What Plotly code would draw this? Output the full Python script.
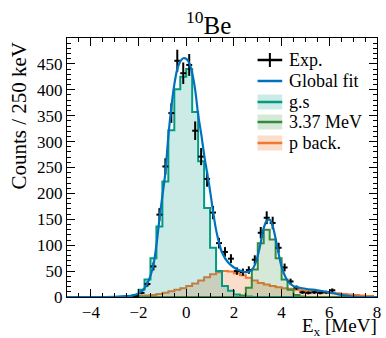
import numpy as np
import plotly.graph_objects as go

# ---------------- data ----------------
BIN_W = 0.25  # MeV
bin_centers = np.arange(-5 + BIN_W / 2, 8, BIN_W)  # 52 bins from -5 to 8

# g.s. component (counts per bin, 52 bins)
gs_counts = [0, 0, 0, 0, 0, 0, 0, 0, 0, 0,
             1, 4, 14, 34, 75, 136, 223, 322, 401, 425,
             440, 357, 262, 172, 95, 50, 21, 12, 5, 2,
             1, 0, 0, 0, 0, 0, 0, 0, 0, 0,
             0, 0, 0, 0, 0, 0, 0, 0, 0, 0,
             0, 0]

# 3.37 MeV component
ex337_counts = [0, 0, 0, 0, 0, 0, 0, 0, 0, 0,
                0, 0, 0, 0, 0, 0, 0, 0, 0, 0,
                0, 0, 0, 0, 0, 0, 0, 0, 0, 3,
                18, 53, 104, 130, 111, 75, 34, 14, 4, 1,
                0, 0, 0, 0, 0, 0, 0, 0, 0, 0,
                0, 0]

# proton background component
pback_counts = [0, 0, 0, 0, 0, 0, 0, 0, 0, 0,
                0, 1, 2, 3, 4, 6, 8, 11, 14, 17,
                21, 26, 32, 38, 44, 48, 50, 49, 46, 42,
                37, 32, 27, 24, 21, 19, 17, 16, 14, 13,
                12, 11, 10, 9, 8, 7, 6, 5, 4, 3,
                2, 2]

# experimental spectrum (bin centres -2.125 ... 6.125)
exp_centers = np.arange(-2.125, 6.125 + 1e-9, BIN_W)
exp_counts = [2, 8, 25, 59, 159, 252, 355, 456, 432, 448,
              321, 271, 228, 163, 104, 87, 74, 50, 48, 52,
              72, 124, 153, 143, 95, 57, 30, 18, 9, 8,
              9, 8, 9, 13]

# global fit curve
fit_E = [-5, -3, -2.5, -2.25, -2.0, -1.75, -1.625, -1.5, -1.375, -1.25,
         -1.125, -1.0, -0.875, -0.75, -0.625, -0.5, -0.375, -0.25, -0.125, 0.0,
         0.125, 0.25, 0.375, 0.5, 0.625, 0.75, 0.875, 1.0, 1.125, 1.25,
         1.375, 1.5, 1.75, 2.0, 2.25, 2.5, 2.75, 2.875, 3.0, 3.125,
         3.25, 3.375, 3.5, 3.625, 3.75, 3.875, 4.0, 4.25, 4.5, 5.0,
         5.5, 6.0, 6.5, 7.0, 8.0]
fit_N = [0, 0.3, 1.5, 3, 7, 17, 27, 41, 62, 100,
         150, 195, 240, 310, 366, 410, 440, 455, 461, 460,
         452, 432, 400, 352, 316, 275, 240, 205, 165, 130,
         105, 86, 67, 57, 51, 48, 52, 62, 80, 105,
         133, 147, 149, 137, 112, 84, 58, 31, 21, 16,
         13, 9, 4, 1, 0]

legend_labels = ["Exp.", "Global fit", "g.s", "3.37 MeV", "p back."]

# ---------------- styling ----------------
FONT = "Liberation Serif"
C_FIT = "rgb(0,114,189)"
C_GS = "rgb(0,155,130)"
C_337 = "rgb(50,140,60)"
C_PB = "rgb(240,120,50)"
F_GS = "rgba(0,155,130,0.2)"
F_337 = "rgba(50,140,60,0.2)"
F_PB = "rgba(240,120,50,0.25)"

W, H = 386, 338
ML, MR, MT, MB = 67, 5, 38, 41
PW, PH = W - ML - MR, H - MT - MB


def px(xp):
    return (xp - ML) / PW


def py(yp):
    return (H - MB - yp) / PH


fig = go.Figure()

# p back (drawn first, under the others)
fig.add_trace(go.Scatter(
    x=bin_centers, y=pback_counts, mode="lines", line_shape="hvh",
    line=dict(color=C_PB, width=2), fill="tozeroy",
    fillcolor=F_PB, name="p back."))
fig.add_trace(go.Scatter(
    x=bin_centers, y=gs_counts, mode="lines", line_shape="hvh",
    line=dict(color=C_GS, width=2), fill="tozeroy",
    fillcolor=F_GS, name="g.s"))
fig.add_trace(go.Scatter(
    x=bin_centers, y=ex337_counts, mode="lines", line_shape="hvh",
    line=dict(color=C_337, width=2), fill="tozeroy",
    fillcolor=F_337, name="3.37 MeV"))

# experimental points
fig.add_trace(go.Scatter(
    x=exp_centers, y=exp_counts, mode="markers",
    marker=dict(size=1, color="black"),
    error_y=dict(type="data", array=np.sqrt(exp_counts), thickness=2,
                 width=0, color="black"),
    error_x=dict(type="constant", value=BIN_W / 2, thickness=2,
                 width=0, color="black"),
    name="Exp."))

# global fit
fig.add_trace(go.Scatter(
    x=fit_E, y=fit_N, mode="lines", line_shape="spline",
    line=dict(color=C_FIT, width=2.2), name="Global fit"))

axis_common = dict(
    showline=True, linecolor="black", linewidth=1, mirror="allticks",
    ticks="inside", tickcolor="black", showgrid=False, zeroline=False,
    tickfont=dict(family=FONT, size=17, color="black"))

fig.update_xaxes(range=[-5, 8], dtick=2, tick0=0, ticklen=8,
                 minor=dict(dtick=0.5, ticks="inside", ticklen=4,
                            tickcolor="black"),
                 **axis_common)
fig.update_yaxes(range=[0, 500], ticklen=8,
                 tickvals=list(range(0, 451, 50)),
                 minor=dict(dtick=10, ticks="inside", ticklen=4,
                            tickcolor="black"),
                 **axis_common)

# ---- hand-built legend (compact ROOT-like spacing) ----
shapes = []
annotations = []
row_y = [60, 81, 102, 122, 143]
sx0, sx1, tx = 260, 285, 290
styles = [("exp", "black", None), ("line", C_FIT, None),
          ("box", C_GS, F_GS), ("box", C_337, F_337), ("box", C_PB, F_PB)]
for label, yy, (kind, lc, fc) in zip(legend_labels, row_y, styles):
    if kind == "box":
        shapes.append(dict(type="rect", xref="paper", yref="paper",
                           x0=px(sx0), x1=px(sx1), y0=py(yy + 7.5),
                           y1=py(yy - 7.5), fillcolor=fc,
                           line=dict(width=0)))
    if kind == "exp":
        shapes.append(dict(type="line", xref="paper", yref="paper",
                           x0=px((sx0 + sx1) / 2), x1=px((sx0 + sx1) / 2),
                           y0=py(yy + 7), y1=py(yy - 7),
                           line=dict(color=lc, width=2)))
    shapes.append(dict(type="line", xref="paper", yref="paper",
                       x0=px(sx0), x1=px(sx1), y0=py(yy), y1=py(yy),
                       line=dict(color=lc, width=2.5)))
    annotations.append(dict(text=label, xref="paper", yref="paper",
                            x=px(tx), y=py(yy), xanchor="left",
                            yanchor="middle", showarrow=False,
                            font=dict(family=FONT, size=18, color="black")))

annotations += [
    dict(text="<sup>10</sup>Be", xref="paper", yref="paper",
         x=px(210), y=py(41), xanchor="center", yanchor="bottom",
         showarrow=False, font=dict(family=FONT, size=25)),
    dict(text="Counts / 250 keV", xref="paper", yref="paper",
         x=px(18), y=py(40), xanchor="center", yanchor="top",
         textangle=-90, showarrow=False, font=dict(family=FONT, size=21)),
    dict(text="E<sub>x</sub> [MeV]", xref="paper", yref="paper",
         x=1.0, y=py(327), xanchor="right", yanchor="middle", xshift=2,
         showarrow=False, font=dict(family=FONT, size=19)),
]

fig.update_layout(
    width=W, height=H,
    margin=dict(l=ML, r=MR, t=MT, b=MB),
    paper_bgcolor="white", plot_bgcolor="white",
    font=dict(family=FONT, color="black"),
    showlegend=False,
    shapes=shapes,
    annotations=annotations,
)

fig.write_html("out.html",
               config={"displayModeBar": False},
               post_script="document.body.style.margin='0px';")
